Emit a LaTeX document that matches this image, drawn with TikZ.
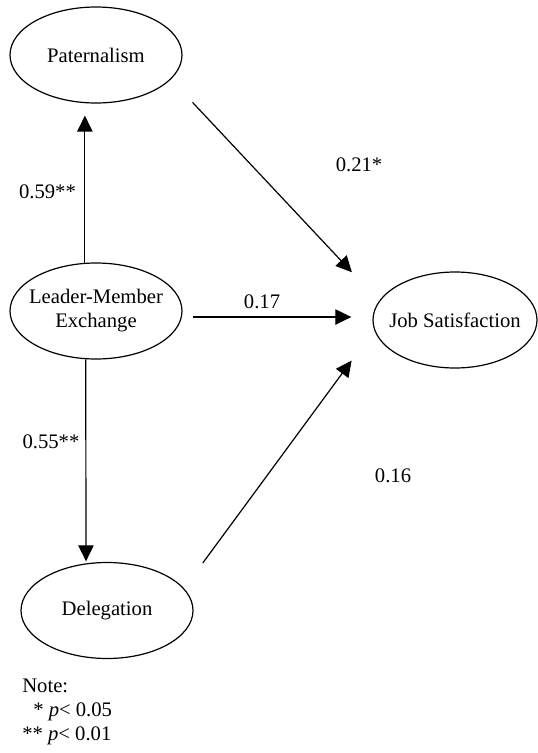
\documentclass[tikz,border=0pt]{standalone}
\usepackage{fontspec}
\setmainfont{Liberation Serif}
\usetikzlibrary{arrows.meta,shapes.geometric}

\begin{document}
\begin{tikzpicture}[x=0.75pt,y=0.75pt,yscale=-1,xscale=1,
	every node/.style={font=\fontsize{15.5}{18}\selectfont},
	latent/.style={ellipse,draw,line width=0.9pt,inner sep=-12pt,minimum width=129pt,minimum height=72pt,align=center},
	path/.style={line width=0.9pt,-{Triangle[length=12pt,width=11.5pt]}},
	coef/.style={inner sep=0.75pt}]
	%set diagram left start at 0, and has height of 753
	\path (0,0) rectangle (538,753);
	
	%Shape: Ellipse [id:pat]
	\node [latent] (pat) at (96,55) {Paternalism};
	%Shape: Ellipse [id:lmx]
	\node [latent] (lmx) at (96,311) {Leader-Member\\Exchange};
	%Shape: Ellipse [id:deleg]
	\node [latent] (deleg) at (107,610.5) {Delegation};
	%Shape: Ellipse [id:js]
	\node [latent,minimum width=123pt] (js) at (455,320) {Job Satisfaction};
	
	%Straight Lines [id:lmx-pat]
	\draw [path,shorten >=9.3pt] (lmx.103) -- (pat.257);
	%Straight Lines [id:lmx-deleg]
	\draw [path,shorten >=1.5pt] (lmx.258) -- (deleg.114);
	%Straight Lines [id:lmx-js]
	\draw [path,shorten <=8pt,shorten >=15.8pt] (lmx.-4) -- (lmx.-4 -| js.west);
	%Straight Lines [id:pat-js]
	\draw [path,shorten <=23.6pt,shorten >=29.6pt] (pat.-18) -- (js.166);
	%Straight Lines [id:deleg-js]
	\draw [path,shorten <=23.6pt,shorten >=28.5pt] (deleg.16) -- (js.187);
	
	% Text Node
	\node [coef] (b1) at (47.5,192) {0.59**};
	% Text Node
	\node [coef] (b2) at (51,442) {0.55**};
	% Text Node
	\node [coef] (b3) at (262,302) {0.17};
	% Text Node
	\node [coef] (b4) at (359,165) {0.21*};
	% Text Node
	\node [coef] (b5) at (393,476) {0.16};
	% Text Node
	\node [anchor=north west,align=left,inner sep=0pt] (note) at (22,679) {Note:\\\hspace*{8.25pt}* \textit{p}< 0.05\\** \textit{p}< 0.01};
	
\end{tikzpicture}
\end{document}
